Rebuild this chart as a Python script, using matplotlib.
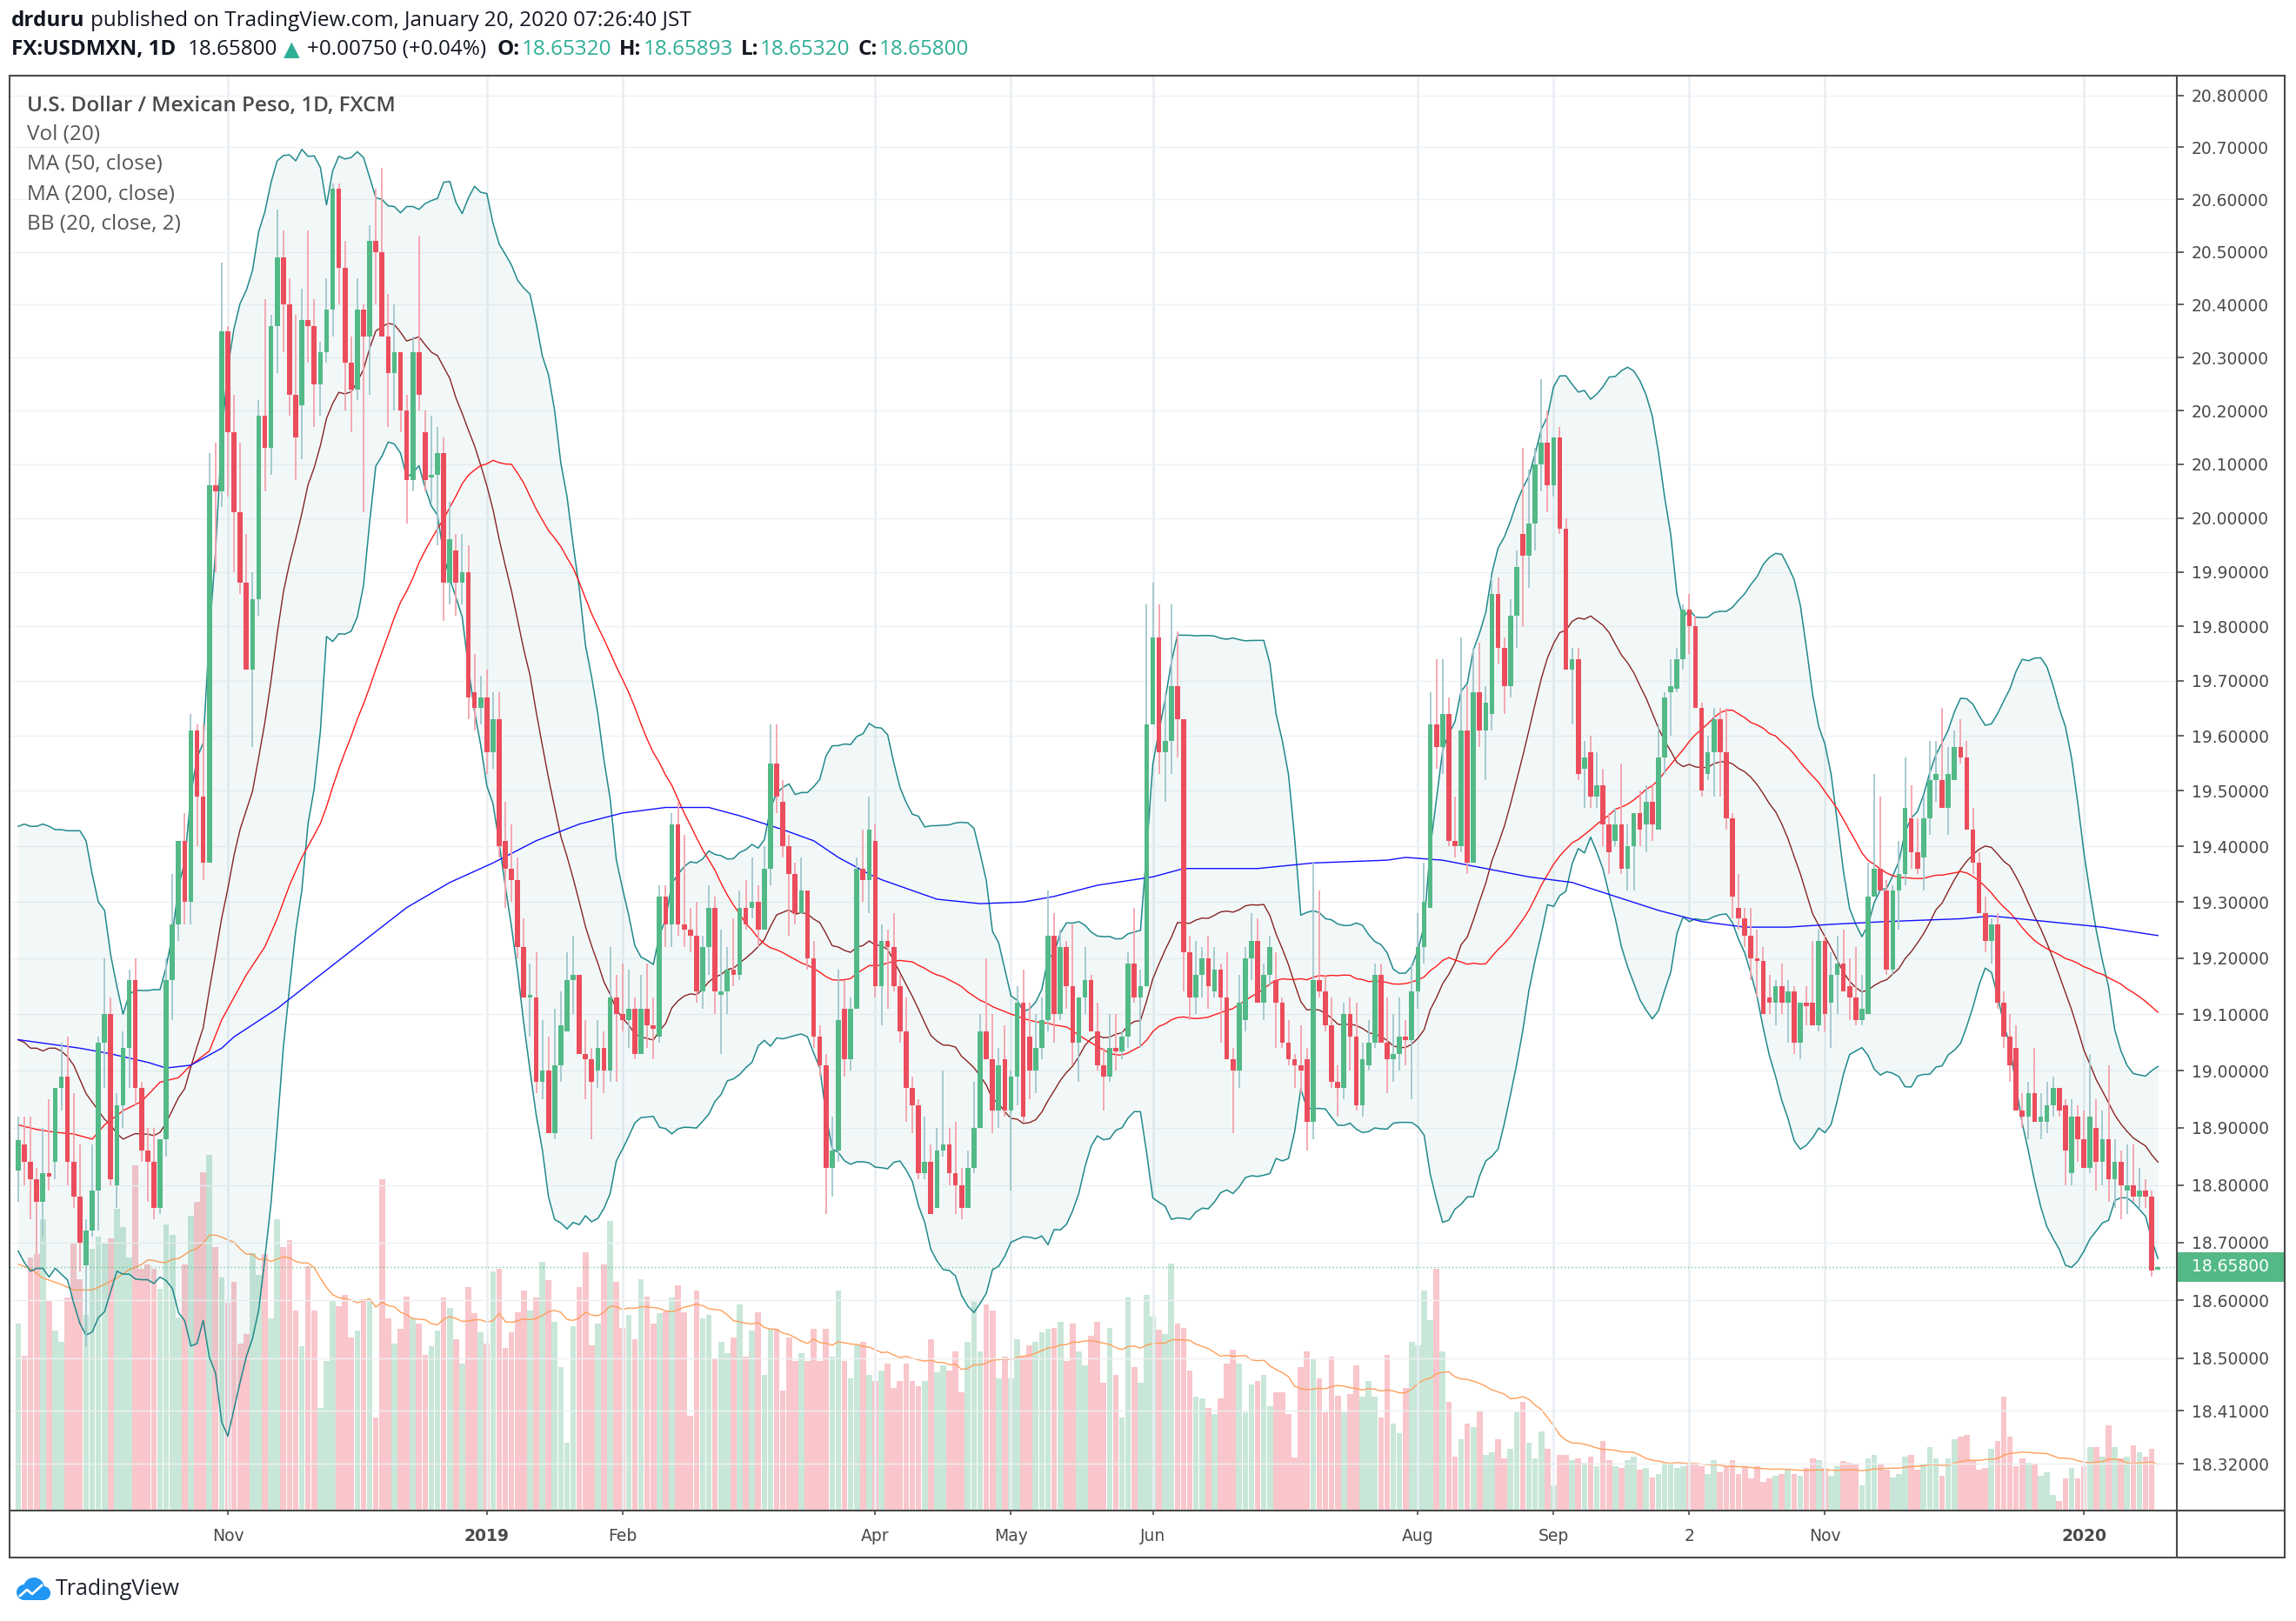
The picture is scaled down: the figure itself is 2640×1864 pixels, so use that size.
import numpy as np
import pandas as pd
import matplotlib
matplotlib.use('Agg')

import matplotlib.pyplot as plt
from matplotlib.lines import Line2D
from matplotlib.patches import Rectangle, Circle

W, H = 2640, 1864
FONT = ['Open Sans', 'DejaVu Sans']
DARK = '#131722'
TEAL = '#2fae96'
FRAME = '#4a4a4a'

# ---- daily candles, USD/MXN (FXCM), 2018-09-14 .. 2020-01-20 ----
opens = [
    18.825, 18.87, 18.84, 18.81, 18.77, 18.82, 18.84, 18.97, 18.99, 18.84,
    18.78, 18.66, 18.72, 18.79, 19.05, 19.10, 18.80, 18.94, 19.04, 19.16,
    18.97, 18.86, 18.84, 18.76, 18.88, 19.16, 19.26, 19.41, 19.30, 19.61,
    19.49, 19.37, 20.06, 20.05, 20.35, 20.16, 20.01, 19.88, 19.72, 19.85,
    20.19, 20.13, 20.36, 20.49, 20.40, 20.23, 20.21, 20.37, 20.36, 20.25,
    20.31, 20.39, 20.62, 20.47, 20.29, 20.24, 20.39, 20.34, 20.52, 20.50,
    20.34, 20.27, 20.31, 20.20, 20.07, 20.31, 20.16, 20.075, 20.08, 20.12,
    19.88, 19.94, 19.88, 19.90, 19.68, 19.65, 19.67, 19.57, 19.63, 19.41,
    19.36, 19.34, 19.22, 19.13, 19.13, 18.98, 19.00, 18.89, 19.01, 19.07,
    19.16, 19.17, 19.03, 19.02, 19.00, 19.04, 19.00, 19.13, 19.10, 19.09,
    19.11, 19.03, 19.11, 19.08, 19.06, 19.31, 19.26, 19.44, 19.26, 19.25,
    19.24, 19.14, 19.22, 19.29, 19.135, 19.14, 19.18, 19.17, 19.29, 19.29,
    19.30, 19.25, 19.36, 19.55, 19.48, 19.40, 19.35, 19.28, 19.32, 19.20,
    19.06, 19.01, 18.83, 18.86, 19.11, 19.02, 19.11, 19.36, 19.34, 19.41,
    19.15, 19.23, 19.22, 19.15, 19.07, 18.97, 18.94, 18.82, 18.84, 18.76,
    18.86, 18.87, 18.82, 18.80, 18.76, 18.83, 18.90, 19.07, 19.02, 18.93,
    19.02, 18.93, 18.99, 19.12, 19.06, 19.00, 19.04, 19.09, 19.24, 19.10,
    19.22, 19.15, 19.05, 19.13, 19.16, 19.07, 19.01, 18.99, 19.04, 19.035,
    19.06, 19.19, 19.13, 19.15, 19.62, 19.78, 19.57, 19.59, 19.69, 19.63,
    19.21, 19.13, 19.17, 19.20, 19.14, 19.18, 19.13, 19.02, 19.00, 19.09,
    19.20, 19.23, 19.12, 19.17, 19.16, 19.12, 19.05, 19.02, 19.01, 19.02,
    18.91, 19.16, 19.14, 19.08, 18.98, 18.97, 19.10, 19.06, 18.94, 19.01,
    19.05, 19.17, 19.05, 19.02, 19.03, 19.06, 19.055, 19.14, 19.22, 19.29,
    19.62, 19.58, 19.64, 19.41, 19.40, 19.61, 19.37, 19.68, 19.61, 19.64,
    19.86, 19.76, 19.69, 19.82, 19.97, 19.93, 19.99, 20.10, 20.14, 20.06,
    20.15, 19.98, 19.72, 19.74, 19.54, 19.57, 19.49, 19.51, 19.44, 19.41,
    19.44, 19.36, 19.40, 19.46, 19.44, 19.48, 19.43, 19.56, 19.68, 19.685,
    19.74, 19.83, 19.80, 19.65, 19.53, 19.57, 19.63, 19.57, 19.45, 19.29,
    19.27, 19.24, 19.20, 19.195, 19.13, 19.12, 19.15, 19.12, 19.14, 19.05,
    19.12, 19.12, 19.08, 19.23, 19.12, 19.17, 19.19, 19.15, 19.13, 19.09,
    19.10, 19.31, 19.36, 19.32, 19.18, 19.32, 19.35, 19.45, 19.39, 19.38,
    19.45, 19.52, 19.52, 19.47, 19.52, 19.58, 19.56, 19.43, 19.37, 19.28,
    19.23, 19.26, 19.12, 19.06, 19.04, 18.93, 18.92, 18.96, 18.91, 18.91,
    18.94, 18.97, 18.94, 18.82, 18.92, 18.88, 18.83, 18.90, 18.84, 18.88,
    18.81, 18.84, 18.79, 18.80, 18.78, 18.79, 18.78, 18.6532,
]
highs = [
    18.92, 18.92, 18.92, 18.83, 18.90, 18.95, 18.97, 19.05, 19.06, 18.96,
    18.87, 18.74, 18.87, 19.06, 19.20, 19.13, 18.96, 19.07, 19.18, 19.20,
    18.98, 18.90, 18.90, 18.88, 19.20, 19.35, 19.41, 19.46, 19.64, 19.62,
    19.62, 20.12, 20.14, 20.48, 20.36, 20.23, 20.14, 19.97, 19.90, 20.22,
    20.41, 20.38, 20.58, 20.54, 20.45, 20.38, 20.43, 20.54, 20.41, 20.33,
    20.45, 20.63, 20.63, 20.52, 20.34, 20.45, 20.40, 20.55, 20.62, 20.66,
    20.42, 20.40, 20.31, 20.23, 20.34, 20.53, 20.20, 20.19, 20.17, 20.15,
    20.03, 19.97, 19.97, 19.95, 19.75, 19.71, 19.72, 19.68, 19.68, 19.48,
    19.44, 19.38, 19.27, 19.19, 19.21, 19.09, 19.06, 19.11, 19.14, 19.21,
    19.24, 19.17, 19.09, 19.04, 19.09, 19.07, 19.22, 19.17, 19.19, 19.18,
    19.13, 19.17, 19.19, 19.13, 19.33, 19.33, 19.46, 19.48, 19.42, 19.29,
    19.30, 19.24, 19.33, 19.31, 19.25, 19.22, 19.27, 19.32, 19.34, 19.38,
    19.33, 19.40, 19.62, 19.62, 19.52, 19.42, 19.37, 19.38, 19.32, 19.23,
    19.08, 19.03, 18.92, 19.18, 19.16, 19.13, 19.38, 19.43, 19.49, 19.44,
    19.26, 19.25, 19.28, 19.17, 19.13, 18.99, 18.95, 18.92, 18.87, 18.90,
    19.00, 18.90, 18.91, 18.83, 18.86, 18.98, 19.10, 19.20, 19.10, 19.04,
    19.08, 19.00, 19.15, 19.18, 19.12, 19.10, 19.13, 19.32, 19.28, 19.25,
    19.23, 19.26, 19.13, 19.22, 19.17, 19.12, 19.04, 19.10, 19.10, 19.07,
    19.21, 19.29, 19.18, 19.84, 19.88, 19.84, 19.68, 19.84, 19.79, 19.63,
    19.24, 19.23, 19.22, 19.24, 19.22, 19.19, 19.21, 19.04, 19.17, 19.22,
    19.28, 19.27, 19.19, 19.24, 19.21, 19.13, 19.09, 19.03, 19.08, 19.04,
    19.37, 19.32, 19.17, 19.13, 19.01, 19.12, 19.13, 19.12, 19.05, 19.09,
    19.19, 19.19, 19.13, 19.10, 19.13, 19.09, 19.19, 19.28, 19.37, 19.68,
    19.74, 19.74, 19.67, 19.49, 19.78, 19.69, 19.76, 19.77, 19.69, 19.89,
    19.89, 19.78, 19.85, 19.94, 20.13, 20.09, 20.13, 20.26, 20.20, 20.15,
    20.17, 20.00, 19.76, 19.76, 19.59, 19.60, 19.57, 19.54, 19.46, 19.47,
    19.55, 19.44, 19.46, 19.50, 19.51, 19.51, 19.62, 19.68, 19.74, 19.76,
    19.84, 19.86, 19.82, 19.66, 19.60, 19.65, 19.65, 19.65, 19.46, 19.35,
    19.29, 19.29, 19.25, 19.22, 19.17, 19.16, 19.19, 19.16, 19.15, 19.12,
    19.15, 19.23, 19.25, 19.24, 19.21, 19.24, 19.25, 19.20, 19.22, 19.17,
    19.37, 19.53, 19.49, 19.34, 19.33, 19.41, 19.56, 19.51, 19.45, 19.49,
    19.59, 19.59, 19.65, 19.58, 19.61, 19.63, 19.59, 19.47, 19.39, 19.31,
    19.27, 19.28, 19.14, 19.10, 19.08, 18.96, 18.98, 19.04, 18.96, 18.98,
    18.99, 18.97, 18.95, 18.95, 18.94, 18.93, 19.03, 18.95, 18.93, 19.01,
    18.88, 18.86, 18.87, 18.87, 18.83, 18.81, 18.79, 18.65893,
]
lows = [
    18.77, 18.80, 18.74, 18.68, 18.71, 18.79, 18.81, 18.93, 18.80, 18.76,
    18.65, 18.52, 18.71, 18.72, 18.97, 18.80, 18.76, 18.90, 18.97, 18.94,
    18.84, 18.77, 18.74, 18.75, 18.85, 19.09, 19.23, 19.26, 19.26, 19.40,
    19.34, 19.37, 19.90, 20.02, 20.04, 19.90, 19.86, 19.72, 19.58, 19.82,
    20.05, 20.08, 20.27, 20.31, 20.19, 20.07, 20.11, 20.29, 20.17, 20.19,
    20.29, 20.34, 20.40, 20.20, 20.16, 20.22, 20.01, 20.23, 20.40, 20.34,
    20.17, 20.20, 20.16, 19.99, 20.05, 20.20, 20.05, 20.03, 19.95, 19.81,
    19.84, 19.82, 19.84, 19.63, 19.61, 19.62, 19.53, 19.54, 19.38, 19.29,
    19.30, 19.20, 19.13, 19.06, 18.96, 18.95, 18.89, 18.88, 18.98, 19.07,
    19.10, 19.03, 18.95, 18.88, 18.97, 18.96, 18.98, 18.98, 19.07, 19.04,
    19.02, 19.03, 19.04, 19.02, 19.05, 19.22, 19.22, 19.24, 19.22, 19.21,
    19.12, 19.11, 19.17, 19.10, 19.03, 19.10, 19.15, 19.16, 19.25, 19.27,
    19.22, 19.25, 19.33, 19.46, 19.38, 19.24, 19.26, 19.28, 19.18, 19.04,
    18.99, 18.75, 18.78, 18.84, 18.99, 19.00, 19.11, 19.30, 19.28, 19.13,
    19.08, 19.11, 19.14, 19.05, 18.91, 18.89, 18.81, 18.81, 18.75, 18.76,
    18.85, 18.80, 18.75, 18.74, 18.76, 18.82, 18.90, 19.02, 18.89, 18.90,
    18.92, 18.79, 18.94, 18.91, 18.95, 18.96, 19.02, 19.07, 19.05, 19.09,
    19.11, 19.01, 18.98, 19.10, 19.07, 19.00, 18.93, 18.98, 19.00, 19.02,
    19.04, 19.12, 19.04, 19.15, 19.62, 19.53, 19.48, 19.53, 19.56, 19.14,
    19.09, 19.10, 19.13, 19.11, 19.13, 19.05, 19.02, 18.89, 18.97, 19.07,
    19.16, 19.12, 19.09, 19.15, 19.04, 19.04, 19.01, 18.97, 18.96, 18.86,
    18.88, 19.13, 19.07, 18.97, 18.92, 18.95, 19.00, 18.93, 18.92, 19.00,
    19.04, 19.05, 18.96, 18.98, 19.00, 19.01, 18.95, 19.11, 19.19, 19.29,
    19.54, 19.53, 19.40, 19.38, 19.39, 19.35, 19.37, 19.58, 19.52, 19.61,
    19.73, 19.64, 19.67, 19.76, 19.80, 19.87, 19.94, 20.05, 20.01, 20.04,
    19.97, 19.72, 19.62, 19.52, 19.47, 19.47, 19.47, 19.40, 19.35, 19.40,
    19.35, 19.32, 19.32, 19.40, 19.39, 19.41, 19.43, 19.53, 19.60, 19.68,
    19.72, 19.75, 19.65, 19.49, 19.52, 19.49, 19.49, 19.43, 19.27, 19.25,
    19.22, 19.16, 19.13, 19.10, 19.10, 19.08, 19.10, 19.05, 19.03, 19.02,
    19.08, 19.08, 19.07, 19.07, 19.04, 19.10, 19.14, 19.09, 19.08, 19.08,
    19.10, 19.31, 19.32, 19.17, 19.17, 19.25, 19.33, 19.36, 19.35, 19.32,
    19.42, 19.48, 19.47, 19.42, 19.52, 19.55, 19.43, 19.35, 19.28, 19.21,
    19.19, 19.11, 19.04, 18.98, 18.93, 18.90, 18.88, 18.91, 18.88, 18.89,
    18.92, 18.92, 18.80, 18.80, 18.84, 18.83, 18.82, 18.79, 18.80, 18.77,
    18.76, 18.74, 18.75, 18.77, 18.76, 18.76, 18.64, 18.6532,
]
closes = [
    18.878, 18.84, 18.81, 18.77, 18.82, 18.815, 18.97, 18.99, 18.84, 18.78,
    18.70, 18.72, 18.79, 19.05, 19.10, 18.81, 18.94, 19.04, 19.16, 18.97,
    18.86, 18.84, 18.76, 18.88, 19.16, 19.26, 19.41, 19.30, 19.61, 19.49,
    19.37, 20.06, 20.05, 20.35, 20.16, 20.01, 19.88, 19.72, 19.85, 20.19,
    20.13, 20.36, 20.49, 20.40, 20.23, 20.15, 20.37, 20.36, 20.25, 20.31,
    20.39, 20.62, 20.47, 20.29, 20.24, 20.39, 20.34, 20.52, 20.50, 20.34,
    20.27, 20.31, 20.20, 20.07, 20.31, 20.23, 20.07, 20.08, 20.12, 19.88,
    19.96, 19.88, 19.90, 19.67, 19.65, 19.67, 19.57, 19.63, 19.40, 19.36,
    19.34, 19.22, 19.13, 19.135, 18.98, 19.00, 18.89, 19.01, 19.08, 19.16,
    19.17, 19.03, 19.02, 18.98, 19.04, 19.00, 19.13, 19.10, 19.09, 19.11,
    19.03, 19.11, 19.08, 19.075, 19.31, 19.26, 19.44, 19.26, 19.25, 19.24,
    19.14, 19.22, 19.29, 19.14, 19.14, 19.18, 19.17, 19.29, 19.26, 19.30,
    19.25, 19.36, 19.55, 19.49, 19.40, 19.35, 19.28, 19.32, 19.20, 19.06,
    19.01, 18.83, 18.86, 19.09, 19.02, 19.11, 19.36, 19.34, 19.43, 19.15,
    19.23, 19.22, 19.15, 19.07, 18.97, 18.94, 18.82, 18.84, 18.75, 18.86,
    18.87, 18.82, 18.80, 18.76, 18.83, 18.90, 19.07, 19.02, 18.93, 19.01,
    18.93, 18.99, 19.12, 18.92, 19.00, 19.04, 19.09, 19.24, 19.10, 19.22,
    19.15, 19.05, 19.13, 19.16, 19.07, 19.01, 18.99, 19.04, 19.035, 19.06,
    19.19, 19.13, 19.15, 19.62, 19.78, 19.57, 19.59, 19.69, 19.63, 19.21,
    19.13, 19.17, 19.20, 19.15, 19.18, 19.13, 19.02, 19.00, 19.12, 19.20,
    19.23, 19.12, 19.17, 19.22, 19.12, 19.05, 19.02, 19.01, 19.00, 18.91,
    19.16, 19.14, 19.08, 18.98, 18.97, 19.10, 19.06, 18.94, 19.02, 19.05,
    19.17, 19.05, 19.02, 19.03, 19.06, 19.055, 19.14, 19.22, 19.30, 19.62,
    19.58, 19.64, 19.41, 19.40, 19.61, 19.37, 19.68, 19.61, 19.66, 19.86,
    19.76, 19.69, 19.82, 19.91, 19.93, 19.99, 20.10, 20.14, 20.06, 20.15,
    19.98, 19.72, 19.74, 19.53, 19.56, 19.49, 19.51, 19.44, 19.39, 19.44,
    19.36, 19.40, 19.46, 19.43, 19.48, 19.44, 19.56, 19.67, 19.69, 19.74,
    19.83, 19.80, 19.65, 19.50, 19.57, 19.63, 19.57, 19.45, 19.31, 19.27,
    19.24, 19.20, 19.195, 19.10, 19.12, 19.15, 19.12, 19.14, 19.05, 19.12,
    19.115, 19.08, 19.23, 19.10, 19.17, 19.19, 19.14, 19.13, 19.09, 19.11,
    19.31, 19.36, 19.32, 19.18, 19.32, 19.35, 19.47, 19.39, 19.36, 19.45,
    19.52, 19.53, 19.47, 19.53, 19.58, 19.56, 19.43, 19.37, 19.28, 19.23,
    19.26, 19.12, 19.06, 19.01, 18.93, 18.92, 18.96, 18.91, 18.92, 18.94,
    18.97, 18.93, 18.86, 18.92, 18.88, 18.83, 18.92, 18.84, 18.88, 18.81,
    18.84, 18.80, 18.80, 18.78, 18.79, 18.78, 18.6505, 18.658,
]
# volume, in the chart's own (unlabelled) scale
volumes = [
    203, 168, 275, 279, 317, 228, 196, 184, 232, 290, 252, 213, 285, 298, 290, 296, 328, 308,
    275, 376, 263, 268, 263, 241, 311, 300, 210, 268, 321, 336, 368, 387, 287, 254, 226, 249,
    182, 192, 280, 256, 279, 209, 317, 287, 294, 218, 179, 266, 218, 112, 163, 228, 222, 235,
    188, 196, 230, 230, 101, 360, 209, 182, 198, 233, 209, 203, 169, 179, 196, 232, 220,
    186, 160, 243, 215, 194, 182, 260, 263, 177, 194, 216, 239, 218, 232, 271, 251, 205, 156,
    74, 201, 243, 281, 180, 203, 268, 315, 249, 199, 213, 186, 252, 233, 203, 215,
    217, 232, 245, 216, 103, 239, 209, 213, 165, 184, 171, 188, 224, 167, 196, 216, 148, 198,
    198, 131, 188, 163, 171, 163, 198, 163, 198, 167, 239, 163, 144, 180, 184, 148, 141,
    152, 160, 133, 141, 160, 141, 135, 141, 186, 150, 158, 152, 173, 129, 184, 227, 173, 224,
    218, 144, 167, 144, 186, 167, 180, 184, 194, 198, 199, 205, 163, 203, 173, 158, 190,
    205, 139, 199, 148, 101, 232, 156, 139, 235, 211, 197, 192, 269, 203, 199, 152, 124, 122,
    112, 105, 122, 160, 175, 160, 107, 137, 141, 148, 114, 129, 129, 105, 58, 156,
    173, 165, 144, 107, 167, 125, 107, 127, 158, 124, 141, 124, 101, 169, 95, 84, 133, 184,
    180, 239, 207, 263, 173, 118, 59, 78, 95, 91, 108, 61, 63, 78, 57, 67, 107,
    118, 74, 57, 86, 67, 27, 61, 61, 55, 57, 52, 59, 48, 76, 55, 48, 46, 55,
    59, 44, 46, 36, 40, 52, 50, 46, 48, 52, 52, 48, 40, 55, 42, 48, 55,
    40, 48, 35, 48, 31, 35, 38, 40, 44, 40, 38, 46, 57, 55, 46, 38, 48, 54,
    52, 50, 27, 57, 61, 50, 44, 36, 40, 59, 61, 44, 50, 69, 57, 38,
    57, 78, 80, 82, 55, 44, 46, 67, 76, 124, 80, 48, 57, 52, 50, 38, 42, 17,
    10, 35, 46, 35, 48, 69, 69, 59, 93, 69, 57, 59, 71, 63, 59, 67, 0,
]

# indicator values before enough bars exist on screen
bb_upper_early = [19.436, 19.44, 19.436, 19.436, 19.44, 19.436, 19.43, 19.43, 19.428, 19.428,
                  19.428, 19.41, 19.35, 19.30, 19.285, 19.205, 19.15, 19.10, 19.135]
bb_lower_early = [18.685, 18.665, 18.65, 18.655, 18.655, 18.64, 18.655, 18.645, 18.635, 18.595,
                  18.56, 18.54, 18.545, 18.57, 18.58, 18.615, 18.65, 18.645, 18.645]
bb_basis_early = [19.055, 19.05, 19.04, 19.04, 19.035, 19.04, 19.04, 19.035, 19.025, 19.01,
                  18.985, 18.96, 18.945, 18.93, 18.915, 18.905, 18.89, 18.88, 18.885]
ma50_early_bar = [0, 3, 6, 9, 12, 14, 17, 20, 23, 26, 28, 31, 33, 35, 37, 40, 42, 44, 46, 48]
ma50_early = [18.905, 18.897, 18.892, 18.889, 18.88, 18.905, 18.93, 18.946, 18.98, 18.988,
              19.01, 19.035, 19.09, 19.13, 19.17, 19.22, 19.27, 19.33, 19.38, 19.42]
ma200_bar = [0, 10, 15, 21, 24, 28, 33, 35, 42, 49, 56, 63, 70, 77, 84, 91, 98, 105, 112, 117,
             124, 129, 133, 138, 140, 149, 156, 163, 168, 175, 184, 189, 201, 210, 222, 225,
             231, 238, 245, 252, 259, 266, 273, 280, 287, 294, 303, 315, 320, 329, 338, 347]
ma200 = [19.055, 19.04, 19.03, 19.015, 19.005, 19.01, 19.04, 19.06, 19.11, 19.17, 19.23, 19.29,
         19.335, 19.37, 19.41, 19.44, 19.46, 19.47, 19.47, 19.455, 19.43, 19.41, 19.38, 19.35,
         19.34, 19.305, 19.297, 19.30, 19.31, 19.33, 19.345, 19.36, 19.36, 19.37, 19.375, 19.38,
         19.375, 19.36, 19.345, 19.335, 19.31, 19.285, 19.265, 19.255, 19.255, 19.26, 19.265,
         19.27, 19.275, 19.265, 19.255, 19.24]
vol_ma_early_bar = [0, 2, 4, 7, 9, 12, 14, 16, 18]
vol_ma_early = [268, 263, 253, 246, 240, 240, 246, 253, 262]

x_labels = ['Nov', '2019', 'Feb', 'Apr', 'May', 'Jun', 'Aug', 'Sep', '2', 'Nov', '2020']
x_label_dates = ['2018-11-01', '2019-01-02', '2019-02-01', '2019-04-01', '2019-05-01',
                 '2019-06-03', '2019-08-01', '2019-09-02', '2019-10-02', '2019-11-01',
                 '2020-01-02']
y_ticks = [20.8, 20.7, 20.6, 20.5, 20.4, 20.3, 20.2, 20.1, 20.0, 19.9, 19.8, 19.7, 19.6,
           19.5, 19.4, 19.3, 19.2, 19.1, 19.0, 18.9, 18.8, 18.7, 18.6, 18.5, 18.41, 18.32]
last_price = 18.658


def px(x, y):
    return x / W, 1 - y / H


def ftext(fig, x, y, s, **kw):
    kw.setdefault('va', 'center')
    kw.setdefault('family', FONT)
    return fig.text(*px(x, y), s, **kw)


def text_run(fig, x, y, pieces, size):
    r = fig.canvas.get_renderer()
    for s, color, weight, gap in pieces:
        fam = ['DejaVu Sans'] if s == '\u25b2' else FONT
        t = ftext(fig, x, y, s, color=color, fontweight=weight, fontsize=size, family=fam)
        x += t.get_window_extent(renderer=r).width + gap


def plot():
    o = np.array(opens)
    h = np.array(highs)
    l = np.array(lows)
    c = np.array(closes)
    n = len(c)
    x = np.arange(n)
    up = c >= o

    dates = pd.bdate_range('2018-09-14', '2020-01-20')
    dates = dates[~dates.strftime('%m-%d').isin(['12-25', '01-01'])]
    tick_pos = [int(np.searchsorted(dates, pd.Timestamp(d))) for d in x_label_dates]

    s = pd.Series(c)
    basis = s.rolling(20).mean().values
    sd = s.rolling(20).std(ddof=0).values
    upper = np.concatenate([bb_upper_early, (basis + 2 * sd)[19:]])
    lower = np.concatenate([bb_lower_early, (basis - 2 * sd)[19:]])
    basis = np.concatenate([bb_basis_early, basis[19:]])
    ma50 = s.rolling(50).mean().values
    ma50_x = ma50_early_bar + list(range(49, n))
    ma50_y = ma50_early + list(ma50[49:])
    vma = pd.Series(volumes, dtype=float).rolling(20).mean().values
    vma_x = vol_ma_early_bar + list(range(19, n))
    vma_y = vol_ma_early + list(vma[19:])

    fig = plt.figure(figsize=(W / 100, H / 100), dpi=100)
    fig.patch.set_facecolor('white')
    rect = [11 / W, 1 - 1737 / H, (2503 - 11) / W, (1737 - 87) / H]
    xlim = (-1.4, 350.07)

    # volume underneath everything
    ax_vol = fig.add_axes(rect)
    ax_vol.bar(x, volumes, width=0.94, color=np.where(up, '#c9e7d8', '#f8c6cb'), linewidth=0)
    ax_vol.plot(vma_x, vma_y, color='#ff9f5a', lw=1.0)
    ax_vol.set_xlim(*xlim)
    ax_vol.set_ylim(0, 1561)
    ax_vol.axis('off')

    ax = fig.add_axes(rect)
    ax.patch.set_alpha(0)
    ax.set_yscale('log')
    ax.set_axisbelow(True)

    ax.fill_between(x, upper, lower, color='#138484', alpha=0.05, lw=0, zorder=1)
    ax.plot(x, upper, color='#21898b', lw=1.1, zorder=2)
    ax.plot(x, lower, color='#21898b', lw=1.1, zorder=2)
    ax.plot(x, basis, color='#872323', lw=1.0, zorder=2)
    ax.plot(ma50_x, ma50_y, color='#ff1a1a', lw=1.0, zorder=2)
    ax.plot(ma200_bar, ma200, color='#1010ff', lw=1.0, zorder=2)
    ax.axhline(last_price, color='#53b987', lw=1.0, ls=(0, (1, 2)), alpha=0.8, zorder=2)

    ax.vlines(x, l, h, colors=np.where(up, '#a2c6cd', '#f4a2ab'), lw=1.3, zorder=3)
    ax.bar(x, np.maximum(np.abs(c - o), 0.003), bottom=np.minimum(o, c), width=0.8,
           color=np.where(up, '#53b987', '#eb4d5c'), linewidth=0, zorder=4)

    for p in tick_pos:
        ax.axvline(p, color='#e8eef3', lw=1.8, zorder=0.5)

    ax.set_xlim(*xlim)
    ax.set_ylim(18.2405, 20.8378)
    ax.yaxis.tick_right()
    ax.set_yticks(y_ticks)
    ax.set_yticklabels(['%.5f' % v for v in y_ticks])
    ax.minorticks_off()
    ax.grid(axis='y', color='#eef1f4', lw=1.0)
    ax.tick_params(axis='y', length=5.8, width=1.2, pad=6.5, labelsize=13.5,
                   color=FRAME, labelcolor='#4a4a4a')
    ax.set_xticks(tick_pos)
    ax.set_xticklabels(x_labels)
    ax.tick_params(axis='x', length=3.6, width=1.2, pad=10.5, labelsize=13.5,
                   color=FRAME, labelcolor='#4a4a4a')
    for lbl in ax.get_xticklabels():
        if lbl.get_text() in ('2019', '2020'):
            lbl.set_fontweight('bold')
    for sp in ax.spines.values():
        sp.set_visible(False)

    # frame around chart, price scale and time scale
    for (x0, y0, x1, y1) in [(11, 87, 2627, 87), (11, 1791, 2627, 1791), (11, 87, 11, 1791),
                             (2627, 87, 2627, 1791), (2503, 87, 2503, 1791),
                             (11, 1737, 2627, 1737)]:
        fig.add_artist(Line2D([x0 / W, x1 / W], [1 - y0 / H, 1 - y1 / H],
                              transform=fig.transFigure, color=FRAME, lw=1.5))

    # last price tag
    fig.add_artist(Rectangle(px(2504, 1474), 122 / W, 34 / H, transform=fig.transFigure,
                             color='#53b987', lw=0))
    fig.text(*px(2520, 1457), '%.5f' % last_price, color='white', fontsize=13.5, va='center')

    # header
    text_run(fig, 13, 24, [('drduru', DARK, 'bold', 7),
                           ('published on TradingView.com, January 20, 2020 07:26:40 JST',
                            DARK, 'normal', 0)], 17.5)
    text_run(fig, 13, 57, [('FX:USDMXN, 1D', DARK, 'bold', 14),
                           ('18.65800', DARK, 'normal', 6),
                           ('\u25b2', TEAL, 'normal', 9),
                           ('+0.00750 (+0.04%)', DARK, 'normal', 12),
                           ('O:', DARK, 'bold', 2), ('18.65320', TEAL, 'normal', 9),
                           ('H:', DARK, 'bold', 2), ('18.65893', TEAL, 'normal', 9),
                           ('L:', DARK, 'bold', 2), ('18.65320', TEAL, 'normal', 9),
                           ('C:', DARK, 'bold', 2), ('18.65800', TEAL, 'normal', 0)], 17.5)

    # study legend
    ftext(fig, 31, 122, 'U.S. Dollar / Mexican Peso, 1D, FXCM', fontsize=17.5,
          fontweight='semibold', color='#4a4a4a')
    for yy, label in zip([155, 189, 224, 258],
                         ['Vol (20)', 'MA (50, close)', 'MA (200, close)', 'BB (20, close, 2)']):
        ftext(fig, 31, yy, label, fontsize=17.5, color='#555555')

    # TradingView logo
    lax = fig.add_axes([15 / W, 1 - 1845 / H, 45 / W, 35 / H])
    lax.set_xlim(0, 45)
    lax.set_ylim(0, 35)
    lax.axis('off')
    for cx, cy, r in [(13, 14, 9), (24, 19, 12), (35, 13, 8)]:
        lax.add_patch(Circle((cx, cy), r, color='#2196f3', lw=0))
    lax.add_patch(Rectangle((13, 5), 22, 10, color='#2196f3', lw=0))
    lax.plot([8, 16, 22, 33], [10, 17, 12, 22], color='white', lw=2)
    ftext(fig, 64, 1827, 'TradingView', fontsize=18, color='#1e222d')

    fig.savefig('out.png', dpi=100, facecolor='white')


if __name__ == '__main__':
    plot()
